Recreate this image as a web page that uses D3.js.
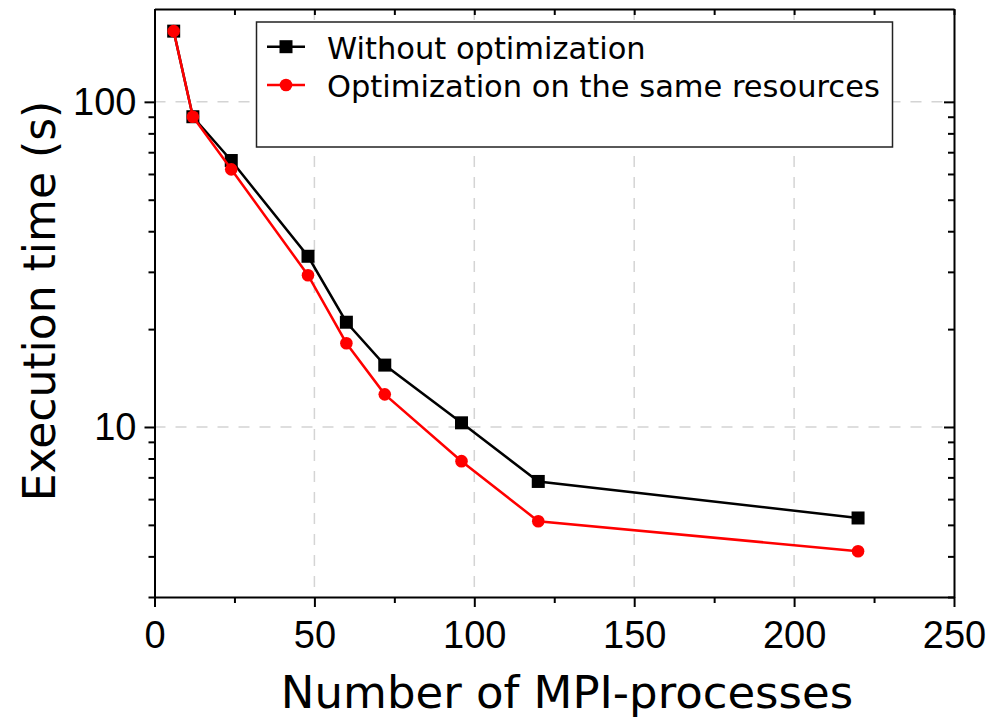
<!DOCTYPE html>
<meta charset="utf-8">
<script src="https://d3js.org/d3.v7.min.js"></script>
<style>
  body { margin: 0; background: #fff; }
  svg { display: block; font-family: "DejaVu Sans", Verdana, sans-serif; }
  .grid line { stroke: #d4d4d4; stroke-width: 1.5; stroke-dasharray: 11,10; }
  .axis path, .axis line { stroke: #000; stroke-width: 2; }
  .axis text { font-size: 38px; fill: #000; }
</style>
<body></body>
<script>
  // data
  var procs = [6, 12, 24, 48, 60, 72, 96, 120, 220];
  var noOpt = [165, 90, 66, 33.5, 21, 15.5, 10.3, 6.8, 5.25];
  var opt = [165, 90, 62, 29.3, 18.1, 12.6, 7.85, 5.13, 4.15];
  var seriesNames = ['Without optimization', 'Optimization on the same resources'];
  var xMajor = [0, 50, 100, 150, 200, 250];
  var xMinor = [25, 75, 125, 175, 225];
  var yMajor = [10, 100];
  var yMinor = [3, 4, 5, 6, 7, 8, 9, 20, 30, 40, 50, 60, 70, 80, 90];

  var width = 997, height = 718;
  // plot box (note: "top" is taken by window.top, so prefix these)
  var pLeft = 154.5, pRight = 954, pTop = 9, pBottom = 597;

  var svg = d3.select('body').append('svg')
    .attr('width', width).attr('height', height);

  var x = d3.scaleLinear().domain([0, 250]).range([pLeft, pRight]);
  var y = d3.scaleLog().domain([3, 193]).range([pBottom, pTop]);

  // grid
  var grid = svg.append('g').attr('class', 'grid');
  grid.selectAll('.gx').data([50, 100, 150, 200]).enter().append('line')
    .attr('x1', d => x(d)).attr('x2', d => x(d))
    .attr('y1', pTop).attr('y2', pBottom);
  grid.selectAll('.gy').data(yMajor).enter().append('line')
    .attr('x1', pLeft).attr('x2', pRight)
    .attr('y1', d => y(d)).attr('y2', d => y(d));

  function addAxis(axis, tr) {
    return svg.append('g').attr('class', 'axis').attr('transform', tr).call(axis);
  }

  // bottom: major outward + labels, minor outward
  addAxis(d3.axisBottom(x).tickValues(xMajor).tickSize(10).tickSizeOuter(0).tickPadding(14)
    .tickFormat(d3.format('d')), 'translate(0,' + pBottom + ')');
  addAxis(d3.axisBottom(x).tickValues(xMinor).tickSize(6).tickFormat(''), 'translate(0,' + pBottom + ')')
    .select('.domain').remove();
  // top: inward
  addAxis(d3.axisTop(x).tickValues(xMajor.concat(xMinor)).tickSize(-6).tickSizeOuter(0).tickFormat(''),
    'translate(0,' + pTop + ')');
  // left: outward
  addAxis(d3.axisLeft(y).tickValues(yMajor).tickSize(10).tickSizeOuter(0).tickPadding(8)
    .tickFormat(d3.format('d')), 'translate(' + pLeft + ',0)');
  addAxis(d3.axisLeft(y).tickValues(yMinor).tickSize(6).tickFormat(''), 'translate(' + pLeft + ',0)')
    .select('.domain').remove();
  // right: inward
  addAxis(d3.axisRight(y).tickValues(yMajor).tickSize(-10).tickSizeOuter(0).tickFormat(''),
    'translate(' + pRight + ',0)');
  addAxis(d3.axisRight(y).tickValues(yMinor).tickSize(-6).tickFormat(''), 'translate(' + pRight + ',0)')
    .select('.domain').remove();

  // axis titles
  svg.append('text')
    .attr('x', 567).attr('y', 708)
    .attr('text-anchor', 'middle')
    .style('font-size', '45px')
    .text('Number of MPI-processes');
  svg.append('text')
    .attr('transform', 'translate(55,301) rotate(-90)')
    .attr('text-anchor', 'middle')
    .style('font-size', '44px')
    .text('Execution time (s)');

  // series
  var line = d3.line().x(d => x(d[0])).y(d => y(d[1]));
  var ptsNo = procs.map((p, i) => [p, noOpt[i]]);
  var ptsOpt = procs.map((p, i) => [p, opt[i]]);

  svg.append('path').datum(ptsNo).attr('d', line)
    .attr('fill', 'none').attr('stroke', '#000').attr('stroke-width', 2.5);
  svg.selectAll('.sq').data(ptsNo).enter().append('rect')
    .attr('x', d => x(d[0]) - 6.5).attr('y', d => y(d[1]) - 6.5)
    .attr('width', 13).attr('height', 13).attr('fill', '#000');

  svg.append('path').datum(ptsOpt).attr('d', line)
    .attr('fill', 'none').attr('stroke', '#ff0000').attr('stroke-width', 2.5);
  svg.selectAll('.ci').data(ptsOpt).enter().append('circle')
    .attr('cx', d => x(d[0])).attr('cy', d => y(d[1]))
    .attr('r', 6.3).attr('fill', '#ff0000');

  // legend
  var lg = svg.append('g');
  lg.append('rect')
    .attr('x', 256.5).attr('y', 22).attr('width', 636).attr('height', 125)
    .attr('fill', '#fff').attr('stroke', '#222').attr('stroke-width', 1.5);
  var items = [
    {name: seriesNames[0], color: '#000', shape: 'square', y: 46.7},
    {name: seriesNames[1], color: '#ff0000', shape: 'circle', y: 85}
  ];
  items.forEach(function(it) {
    lg.append('line').attr('x1', 267).attr('x2', 305).attr('y1', it.y).attr('y2', it.y)
      .attr('stroke', it.color).attr('stroke-width', 2.5);
    if (it.shape === 'square') {
      lg.append('rect').attr('x', 286 - 6.5).attr('y', it.y - 6.5)
        .attr('width', 13).attr('height', 13).attr('fill', it.color);
    } else {
      lg.append('circle').attr('cx', 286).attr('cy', it.y).attr('r', 6.3).attr('fill', it.color);
    }
    lg.append('text').attr('x', 327).attr('y', it.y + 12)
      .style('font-size', '30.5px').text(it.name);
  });
</script>
